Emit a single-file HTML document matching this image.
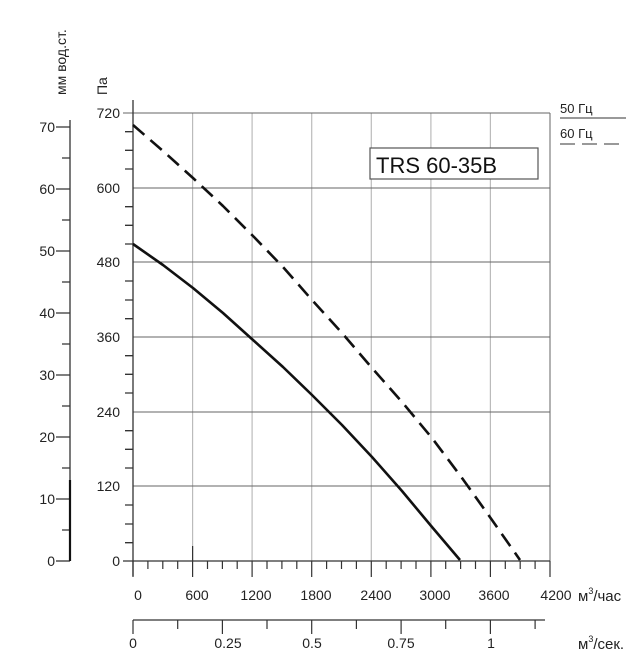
<!DOCTYPE html>
<html><head><meta charset="utf-8"><style>
body{margin:0;background:#fff}
svg{display:block;font-family:"Liberation Sans",sans-serif}
</style></head><body>
<svg width="643" height="670" viewBox="0 0 643 670">
<g stroke="#bbb" stroke-width="1.2">
<line x1="192.6" y1="113" x2="192.6" y2="561"/><line x1="252.1" y1="113" x2="252.1" y2="561"/>
<line x1="311.7" y1="113" x2="311.7" y2="561"/><line x1="371.3" y1="113" x2="371.3" y2="561"/>
<line x1="430.9" y1="113" x2="430.9" y2="561"/><line x1="490.4" y1="113" x2="490.4" y2="561"/>
</g>
<g stroke="#666" stroke-width="1">
<line x1="133" y1="188" x2="550" y2="188"/><line x1="133" y1="262" x2="550" y2="262"/>
<line x1="133" y1="337" x2="550" y2="337"/><line x1="133" y1="412" x2="550" y2="412"/>
<line x1="133" y1="486" x2="550" y2="486"/>
<line x1="123" y1="113" x2="550" y2="113"/><line x1="550" y1="113" x2="550" y2="576"/>
</g>
<g stroke="#333" stroke-width="1.3">
<line x1="133" y1="100" x2="133" y2="576"/><line x1="123" y1="561" x2="550" y2="561"/>
<path d="M125 131.7h8M125 150.3h8M125 169h8M125 206.7h8M125 225.3h8M125 244h8M125 281h8M125 300h8M125 318.7h8M125 355.7h8M125 374.3h8M125 393h8M125 430.7h8M125 449.3h8M125 468h8M125 505h8M125 524h8M125 542.7h8"/>
</g>
<g stroke="#333" stroke-width="1.3">
<line x1="70" y1="120" x2="70" y2="561"/>
<line x1="56" y1="561" x2="70" y2="561"/>
<path d="M56 499h14M56 437h14M56 375h14M56 313h14M56 251h14M56 189h14M56 127h14"/>
<path d="M62 530h8M62 468h8M62 406h8M62 344h8M62 282h8M62 220h8M62 158h8"/>
<line x1="133" y1="620" x2="545" y2="620"/>
</g>
<line x1="70" y1="480" x2="70" y2="561" stroke="#111" stroke-width="2.2"/>
<g font-size="14" fill="#222" text-anchor="end">
<text x="120" y="118">720</text><text x="120" y="193">600</text><text x="120" y="267">480</text>
<text x="120" y="342">360</text><text x="120" y="417">240</text><text x="120" y="491">120</text><text x="120" y="566">0</text>
<text x="55" y="132">70</text><text x="55" y="194">60</text><text x="55" y="256">50</text><text x="55" y="318">40</text>
<text x="55" y="380">30</text><text x="55" y="442">20</text><text x="55" y="504">10</text><text x="55" y="566">0</text>
</g>
<g font-size="14" fill="#222" text-anchor="middle">
<text x="138" y="600">0</text><text x="197" y="600">600</text><text x="256" y="600">1200</text><text x="316" y="600">1800</text>
<text x="376" y="600">2400</text><text x="435" y="600">3000</text><text x="494" y="600">3600</text><text x="556" y="600">4200</text>
<text x="133" y="648">0</text><text x="228" y="648">0.25</text><text x="312" y="648">0.5</text><text x="401" y="648">0.75</text><text x="491" y="648">1</text>
</g>
<text x="578" y="601" font-size="15" fill="#222">м<tspan font-size="9" dy="-7">3</tspan><tspan dy="7">/час</tspan></text>
<text x="578" y="649" font-size="15" fill="#222">м<tspan font-size="9" dy="-7">3</tspan><tspan dy="7">/сек.</tspan></text>
<text transform="translate(66,95) rotate(-90)" font-size="14" fill="#222">мм вод.ст.</text>
<text transform="translate(107,95) rotate(-90)" font-size="14" fill="#222">Па</text>
<rect x="370" y="148" width="168" height="31" fill="#fff" stroke="#555" stroke-width="1.2"/>
<text x="376" y="173" font-size="22" fill="#111">TRS 60-35B</text>
<text x="560" y="113" font-size="13" fill="#222">50 Гц</text>
<line x1="560" y1="118" x2="626" y2="118" stroke="#333"/>
<text x="560" y="138" font-size="13" fill="#222">60 Гц</text>
<line x1="560" y1="144" x2="626" y2="144" stroke="#333" stroke-dasharray="15,7"/>
<polyline points="133,244 163,265 193,288 223,313 253,340 283,367 312,395 342,425 372,457 402,491 432,527 460,560" fill="none" stroke="#111" stroke-width="2.6" stroke-linejoin="round"/>
<polyline points="133,125 163,151 193,178 223,206 253,236 283,267 312,300 342,333 372,368 402,402 432,438 462,478 492,520 520,560" fill="none" stroke="#111" stroke-width="2.6" stroke-dasharray="15,8" stroke-linejoin="round"/>
<g stroke="#333" stroke-width="1.2">
<path d="M133 561v16M147.9 561v8M162.8 561v8M177.7 561v8M192.6 561v16M207.5 561v8M222.4 561v8M237.2 561v8M252.1 561v16M267 561v8M281.9 561v8M296.8 561v8M311.7 561v16M326.6 561v8M341.5 561v8M356.4 561v8M371.3 561v16M386.2 561v8M401.1 561v8M416 561v8M430.9 561v16M445.7 561v8M460.6 561v8M475.5 561v8M490.4 561v16M505.3 561v8M520.2 561v8M535.1 561v8M550 561v16"/>
<path d="M133 620v14M177.7 620v9M222.4 620v14M267 620v9M311.7 620v14M356.4 620v9M401.1 620v14M445.7 620v9M490.4 620v14M535.1 620v9"/>
<line x1="192.6" y1="546" x2="192.6" y2="561"/>
</g>
</svg>
</body></html>
